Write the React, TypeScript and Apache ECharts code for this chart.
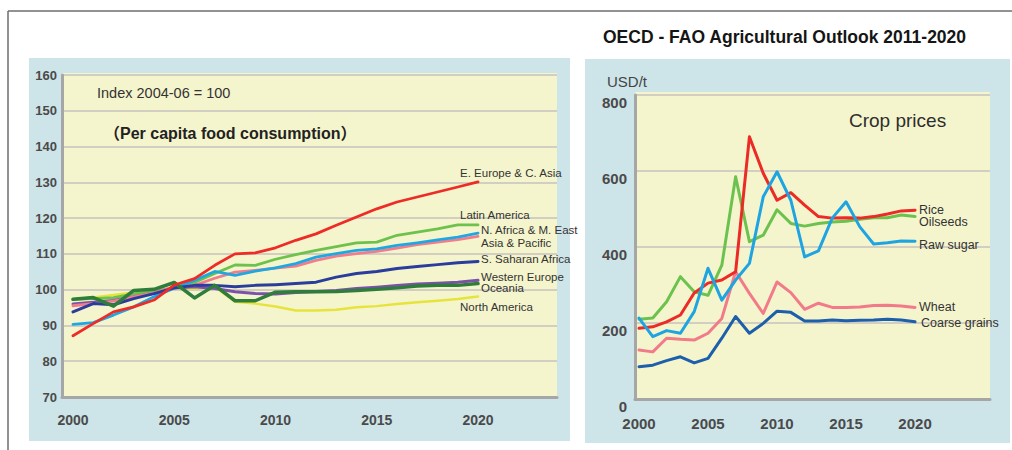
import React, { useEffect, useRef } from "react";
import * as echarts from "echarts";

// ---------- Data ----------
const years = [2000, 2001, 2002, 2003, 2004, 2005, 2006, 2007, 2008, 2009, 2010, 2011, 2012, 2013, 2014, 2015, 2016, 2017, 2018, 2019, 2020];
const yearTicks = [2000, 2005, 2010, 2015, 2020];

// Per capita food consumption, index 2004-06 = 100
const eEuropeCAsia = [87.1, 90.5, 93.8, 95.2, 97.1, 101.3, 103.1, 106.8, 110, 110.3, 111.7, 113.8, 115.6, 118, 120.3, 122.6, 124.5, 125.9, 127.3, 128.7, 130.1];
const latinAmerica = [97.3, 97.5, 97.8, 98.8, 99.5, 100.5, 102, 104.5, 106.9, 106.8, 108.5, 109.8, 111, 112, 113.1, 113.3, 115.2, 116.1, 117, 118.1, 118.1];
const nAfricaMEast = [90.3, 90.8, 92.9, 95.2, 98, 100.4, 102.6, 105.1, 104, 105.2, 106.1, 107.3, 109.1, 110.1, 111, 111.4, 112.4, 113.1, 113.9, 114.7, 115.8];
const asiaPacific = [95.5, 96.1, 96.8, 98, 99.1, 100.8, 101.2, 103.2, 104.9, 105.4, 106, 106.6, 108.2, 109.4, 110.1, 110.7, 111.6, 112.6, 113.3, 114, 114.9];
const sSaharanAfrica = [93.8, 96.1, 95.8, 97.5, 98.9, 100.5, 101.2, 101.2, 100.8, 101.2, 101.4, 101.7, 102.1, 103.5, 104.5, 105.1, 105.9, 106.5, 107, 107.5, 107.9];
const westernEurope = [96, 96.5, 97, 98, 99, 100.5, 100.8, 100.3, 99.4, 98.9, 98.8, 99.2, 99.5, 99.8, 100.3, 100.7, 101.2, 101.6, 101.8, 102.1, 102.6];
const oceania = [97.3, 97.8, 95.4, 99.8, 100.1, 102, 97.7, 101.2, 96.9, 96.9, 99.3, 99.4, 99.4, 99.5, 99.8, 100.1, 100.5, 101, 101.2, 101.2, 101.7];
const northAmerica = [97.3, 97.8, 98.5, 99.2, 99.8, 100.5, 100.3, 100.8, 96.6, 96.1, 95.3, 94.2, 94.2, 94.4, 95.1, 95.4, 96, 96.5, 96.9, 97.4, 98.1];

// Crop prices, USD/t
const rice = [186, 190, 203, 221, 279, 305, 313, 335, 690, 594, 523, 543, 510, 480, 476, 477, 476, 480, 487, 495, 497];
const oilseeds = [210, 213, 256, 322, 282, 273, 352, 585, 414, 431, 498, 462, 455, 462, 466, 468, 473, 477, 477, 484, 480];
const rawSugar = [213, 164, 180, 173, 230, 344, 260, 313, 357, 532, 598, 523, 374, 390, 476, 519, 453, 408, 411, 416, 415];
const wheat = [129, 124, 160, 157, 155, 173, 212, 335, 278, 225, 308, 280, 236, 252, 241, 241, 242, 246, 247, 245, 241];
const coarseGrains = [85, 89, 101, 111, 95, 107, 160, 217, 173, 199, 231, 228, 205, 205, 208, 206, 207, 208, 210, 208, 203];

const leftSeries = [
  { name: "North America", values: northAmerica, color: "#e6e43c", width: 2.5 },
  { name: "Latin America", values: latinAmerica, color: "#6cc24c", width: 2.8 },
  { name: "Western Europe", values: westernEurope, color: "#7b52aa", width: 3 },
  { name: "Asia & Pacific", values: asiaPacific, color: "#f27c8c", width: 2.8 },
  { name: "N. Africa & M. East", values: nAfricaMEast, color: "#1ea8e2", width: 2.8 },
  { name: "S. Saharan Africa", values: sSaharanAfrica, color: "#2b3d9c", width: 3 },
  { name: "Oceania", values: oceania, color: "#2f7d3b", width: 3.5 },
  { name: "E. Europe & C. Asia", values: eEuropeCAsia, color: "#ee2b26", width: 2.8 },
];

const rightSeries = [
  { name: "Coarse grains", values: coarseGrains, color: "#1d5fab", width: 3 },
  { name: "Wheat", values: wheat, color: "#f27b8a", width: 3 },
  { name: "Oilseeds", values: oilseeds, color: "#6cc24e", width: 3 },
  { name: "Rice", values: rice, color: "#ec2a26", width: 3 },
  { name: "Raw sugar", values: rawSugar, color: "#1fa4e2", width: 3 },
];

const leftLabels = [
  { text: "E. Europe & C. Asia", x: 460, y: 173 },
  { text: "Latin America", x: 460, y: 215 },
  { text: "N. Africa & M. East", x: 481, y: 230 },
  { text: "Asia & Pacific", x: 481, y: 243 },
  { text: "S. Saharan Africa", x: 481, y: 259 },
  { text: "Western Europe", x: 481, y: 277 },
  { text: "Oceania", x: 481, y: 288 },
  { text: "North America", x: 460, y: 307 },
];

const rightLabels = [
  { text: "Rice", x: 919, y: 210 },
  { text: "Oilseeds", x: 919, y: 222 },
  { text: "Raw sugar", x: 919, y: 245 },
  { text: "Wheat", x: 919, y: 307 },
  { text: "Coarse grains", x: 921, y: 323 },
];

const FONT = "'Liberation Sans', Arial, 'Noto Sans CJK SC', sans-serif";
const PANEL_BLUE = "#cde4e8";
const PLOT_YELLOW = "#f5f5cd";
const GRID_LINE = "#d2cfc2";
const AXIS_LINE = "#a6a6a6";
const TICK_TEXT = "#4a4a4a";

export default function App() {
  const ref = useRef<HTMLDivElement>(null);

  useEffect(() => {
    if (!ref.current) return;
    const chart = echarts.init(ref.current, null, { renderer: "svg" });

    const txt = (text: string, x: number, y: number, font: string, fill: string) => ({
      type: "text", x, y, z: 100,
      style: { text, font, fill, verticalAlign: "middle" },
    });

    const graphic: any[] = [
      { type: "rect", z: -10, shape: { x: 29, y: 58, width: 541, height: 383 }, style: { fill: PANEL_BLUE } },
      { type: "rect", z: -10, shape: { x: 585, y: 59, width: 425, height: 384 }, style: { fill: PANEL_BLUE } },
      { type: "rect", z: -9, shape: { x: 62, y: 73, width: 495, height: 324 }, style: { fill: PLOT_YELLOW } },
      { type: "rect", z: -9, shape: { x: 635, y: 92, width: 355, height: 307 }, style: { fill: PLOT_YELLOW } },
      { type: "line", shape: { x1: 8, y1: 11, x2: 1012, y2: 11 }, style: { stroke: "#6e6e6e", lineWidth: 1.5 } },
      { type: "line", shape: { x1: 8, y1: 11, x2: 8, y2: 450 }, style: { stroke: "#6e6e6e", lineWidth: 1.5 } },
      txt("OECD - FAO Agricultural Outlook 2011-2020", 603, 37, `bold 17.5px ${FONT}`, "#151515"),
      txt("Index 2004-06 = 100", 97, 93, `14.5px ${FONT}`, "#333"),
      txt("（Per capita food consumption）", 104, 133, `bold 16px ${FONT}`, "#222"),
      txt("USD/t", 607, 81, `15px ${FONT}`, "#444"),
      txt("Crop prices", 849, 120, `19px ${FONT}`, "#2e2e2e"),
      ...leftLabels.map((l) => txt(l.text, l.x, l.y, `11.5px ${FONT}`, "#333")),
      ...rightLabels.map((l) => txt(l.text, l.x, l.y, `12.5px ${FONT}`, "#333")),
    ];

    const makeSeries = (s: any, idx: number) => ({
      name: s.name,
      type: "line",
      xAxisIndex: idx,
      yAxisIndex: idx,
      data: years.map((y, i) => [y, s.values[i]]),
      showSymbol: false,
      symbol: "none",
      lineStyle: { color: s.color, width: s.width, cap: "round", join: "round" },
      itemStyle: { color: s.color },
      z: 3,
    });

    const option: any = {
      animation: false,
      backgroundColor: "#ffffff",
      textStyle: { fontFamily: FONT },
      graphic,
      grid: [
        { left: 62, right: 455, top: 75, bottom: 53, containLabel: false },
        { left: 635, right: 22, top: 95, bottom: 51, containLabel: false },
      ],
      xAxis: [
        {
          type: "value", gridIndex: 0, min: 1999.457, max: 2023.9,
          axisLine: { show: true, lineStyle: { color: AXIS_LINE, width: 3 } },
          axisTick: { show: false },
          splitLine: { show: false },
          axisLabel: { customValues: yearTicks, margin: 16, fontSize: 14, fontWeight: "bold", color: TICK_TEXT, formatter: (v: number) => String(Math.round(v)) },
        },
        {
          type: "value", gridIndex: 1, min: 1999.71, max: 2025.43,
          axisLine: { show: true, lineStyle: { color: AXIS_LINE, width: 3 } },
          axisTick: { show: false },
          splitLine: { show: false },
          axisLabel: { customValues: yearTicks, margin: 17, fontSize: 15, fontWeight: "bold", color: TICK_TEXT, formatter: (v: number) => String(Math.round(v)) },
        },
      ],
      yAxis: [
        {
          type: "value", gridIndex: 0, min: 70, max: 160, interval: 10,
          axisLine: { show: true, lineStyle: { color: AXIS_LINE, width: 3 } },
          axisTick: { show: false },
          splitLine: { show: true, lineStyle: { color: GRID_LINE, width: 2 } },
          axisLabel: { margin: 5, fontSize: 13, fontWeight: "bold", color: TICK_TEXT },
        },
        {
          type: "value", gridIndex: 1, min: 0, max: 800, interval: 200,
          axisLine: { show: true, lineStyle: { color: AXIS_LINE, width: 3 } },
          axisTick: { show: false },
          splitLine: { show: true, lineStyle: { color: GRID_LINE, width: 2 } },
          axisLabel: { margin: 8, fontSize: 15, fontWeight: "bold", color: TICK_TEXT, verticalAlign: "top" },
        },
      ],
      series: [
        ...leftSeries.map((s) => makeSeries(s, 0)),
        ...rightSeries.map((s) => makeSeries(s, 1)),
      ],
    };

    chart.setOption(option);
    return () => chart.dispose();
  }, []);

  return (
    <div
      ref={ref}
      style={{ position: "absolute", left: 0, top: 0, width: 1012, height: 450, background: "#fff" }}
    />
  );
}
